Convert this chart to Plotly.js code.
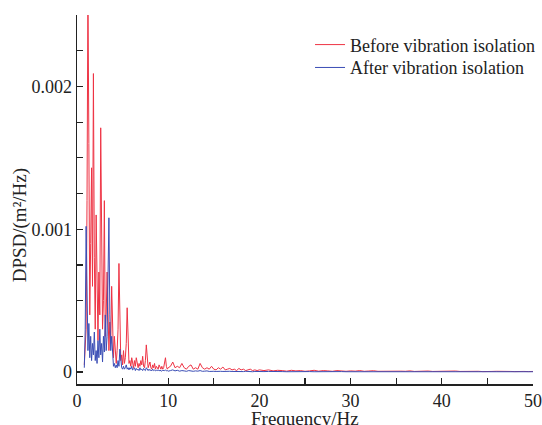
<!DOCTYPE html>
<html>
<head>
<meta charset="utf-8">
<script src="https://cdn.plot.ly/plotly-3.0.1.min.js"></script>
<style>html,body{margin:0;padding:0;background:#fff;}#chart{width:542px;height:425px;}</style>
</head>
<body>
<div id="chart"></div>
<script>
// Frequency (Hz)
var freqLow = [0.8,0.9,1.0,1.1,1.2,1.3,1.4,1.5,1.6,1.7,1.8,1.9,2.0,2.1,2.2,2.3,2.4,2.5,2.6,2.7,2.8,2.9,3.0,3.1,3.2,3.3,3.4,3.5,3.6,3.7,3.8,3.9,4.0,4.1,4.2,4.3,4.4,4.5,4.6,4.7,4.8,4.9,5.0,5.1,5.2,5.3,5.4,5.5,5.6,5.7,5.8,5.9,6.0,6.1,6.2,6.3,6.4,6.5,6.6,6.7,6.8,6.9,7.0,7.1,7.2,7.3,7.4,7.5,7.6,7.7,7.8,7.9,8.0,8.1,8.2,8.3,8.4,8.5,8.6,8.7,8.8,8.9,9.0,9.1,9.2,9.3,9.4,9.5,9.6,9.7,9.8,9.9,10.0];
var freqMid = [10.25,10.5,10.75,11,11.25,11.5,11.75,12,12.25,12.5,12.75,13,13.25,13.5,13.75,14,14.25,14.5,14.75,15,15.25,15.5,15.75,16,16.25,16.5,16.75,17,17.25,17.5,17.75,18,18.25,18.5,18.75,19,19.25,19.5,19.75,20];
var freqHigh = [20.5,21,21.5,22,22.5,23,23.5,24,24.5,25,25.5,26,26.5,27,27.5,28,28.5,29,29.5,30,30.5,31,31.5,32,32.5,33,33.5,34,34.5,35,35.5,36,36.5,37,37.5,38,38.5,39,39.5,40,40.5,41,41.5,42,42.5,43,43.5,44,44.5,45,45.5,46,46.5,47,47.5,48,48.5,49,49.5,50];

// DPSD values in units of 1e-4 m^2/Hz
var beforeLow = [0.5,1.5,3,12,27,16,4,9,14.3,6, 20.9,8,3,11,5,2.2,7,4,17.1,9, 3,5,12,2.5,4,7,3,1.5,3.5,2, 6,2,1,2.5,1,0.6,1.5,3,7.6,2, 0.8,1.2,0.5,1.5,0.6,1,2,4.5,1.5,0.6, 0.8,0.4,1,0.5,0.3,0.8,0.4,1,0.5,0.3, 0.6,0.4,0.8,0.5,1.1,0.4,0.3,0.8,1.9,0.6, 0.3,0.5,0.7,0.3,0.2,0.5,0.3,0.6,0.2,0.4, 0.3,0.2,0.5,0.3,0.2,0.4,0.2,0.3,0.6,1.0, 0.4,0.2,0.3];
var beforeMid = [0.4,0.7,0.3,0.4,0.3,0.6,0.3,0.2,0.4,0.5, 0.2,0.3,0.2,0.6,0.3,0.2,0.3,0.2,0.4,0.2, 0.15,0.3,0.2,0.35,0.15,0.2,0.25,0.15,0.2,0.1, 0.25,0.15,0.2,0.1,0.15,0.2,0.1,0.15,0.1,0.15];
var beforeHigh = [0.1,0.15,0.08,0.12,0.1,0.06,0.12,0.08,0.1,0.05, 0.08,0.12,0.06,0.1,0.08,0.05,0.1,0.07,0.05,0.08, 0.06,0.1,0.05,0.07,0.09,0.05,0.06,0.08,0.04,0.07, 0.06,0.05,0.08,0.04,0.06,0.05,0.07,0.04,0.05,0.06, 0.04,0.05,0.07,0.04,0.05,0.06,0.04,0.05,0.03,0.06, 0.04,0.05,0.03,0.05,0.04,0.03,0.05,0.04,0.03,0.04];

var afterLow = [0.3,3,10.2,5,1.5,3.4,1,2.5,0.8,2, 1.2,2.8,0.8,1.5,0.6,2.2,1,3,1.2,2, 0.7,2.5,1.4,4,1.5,2.5,7.6,10.8,4,1.5, 2.5,0.8,0.4,0.6,0.3,0.5,0.3,0.8,0.4,1.6, 0.5,0.3,0.2,0.4,0.2,0.3,0.5,0.2,0.3,0.15, 0.3,0.2,0.4,0.15,0.2,0.3,0.1,0.25,0.15,0.2, 0.1,0.3,0.15,0.2,0.1,0.25,0.15,0.1,0.3,0.15, 0.1,0.2,0.1,0.15,0.08,0.2,0.1,0.15,0.08,0.12, 0.1,0.15,0.08,0.12,0.1,0.06,0.12,0.08,0.1,0.15, 0.08,0.1,0.06];
var afterMid = [0.1,0.15,0.08,0.12,0.06,0.1,0.08,0.05,0.1,0.07, 0.05,0.08,0.06,0.1,0.05,0.06,0.08,0.04,0.06,0.05, 0.04,0.06,0.05,0.04,0.06,0.03,0.05,0.04,0.03,0.05, 0.03,0.04,0.03,0.05,0.03,0.04,0.02,0.04,0.03,0.03];
var afterHigh = [0.03,0.04,0.02,0.03,0.03,0.02,0.03,0.02,0.03,0.02, 0.03,0.02,0.03,0.02,0.02,0.03,0.02,0.03,0.02,0.02, 0.03,0.02,0.02,0.03,0.02,0.02,0.03,0.02,0.02,0.03, 0.02,0.02,0.03,0.02,0.02,0.02,0.03,0.02,0.02,0.02, 0.02,0.03,0.02,0.02,0.02,0.02,0.03,0.02,0.02,0.02, 0.02,0.02,0.02,0.03,0.02,0.02,0.02,0.02,0.02,0.02];

var seriesNames = ["Before vibration isolation", "After vibration isolation"];
var yTickVals = [0, 0.001, 0.002];
var yTickText = ["0", "0.001", "0.002"];
var xTickVals = [0, 10, 20, 30, 40, 50];
var xTitle = "Frequency/Hz";
var yTitle = "DPSD/(m²/Hz)";

var freq = freqLow.concat(freqMid, freqHigh);
function toSI(a){ return a.map(function(v){ return v * 1e-4; }); }
var before = toSI(beforeLow.concat(beforeMid, beforeHigh));
var after = toSI(afterLow.concat(afterMid, afterHigh));

var font = "Liberation Serif, Times New Roman, serif";
var traces = [
  {x: freq, y: before, type: "scatter", mode: "lines", name: seriesNames[0], legend: "legend",
   line: {color: "#ee3344", width: 1}},
  {x: freq, y: after, type: "scatter", mode: "lines", name: seriesNames[1], legend: "legend2",
   line: {color: "#3a4db5", width: 1}}
];

var legFont = {family: font, size: 18, color: "#222"};
var layout = {
  width: 542, height: 425,
  margin: {l: 77, r: 9, t: 15, b: 41, autoexpand: false},
  paper_bgcolor: "#fff", plot_bgcolor: "#fff",
  font: {family: font, size: 18, color: "#222"},
  showlegend: true,
  legend: {x: 0.511, y: 0.919, xanchor: "left", yanchor: "middle", bgcolor: "rgba(0,0,0,0)", font: legFont},
  legend2: {x: 0.511, y: 0.857, xanchor: "left", yanchor: "middle", bgcolor: "rgba(0,0,0,0)", font: legFont},
  xaxis: {range: [0, 50], tickvals: xTickVals, ticks: "inside", ticklen: 6, tickwidth: 1.2, automargin: false,
          tickcolor: "#222", showline: true, linecolor: "#222", linewidth: 1.5, showgrid: false,
          zeroline: false, minor: {dtick: 5, ticks: "inside", ticklen: 6, tickcolor: "#222", showgrid: false},
          tickfont: {family: font, size: 18, color: "#222"}},
  yaxis: {range: [-0.0000839, 0.0025], tickvals: yTickVals, ticktext: yTickText, ticks: "inside", ticklen: 6,
          tickwidth: 1.2, tickcolor: "#222", showline: true, linecolor: "#222", linewidth: 1.5, showgrid: false,
          zeroline: false, automargin: false,
          minor: {tick0: 0, dtick: 0.00025, ticks: "inside", ticklen: 6, tickcolor: "#222", showgrid: false},
          tickfont: {family: font, size: 18, color: "#222"}},
  annotations: [
    {text: xTitle, xref: "paper", yref: "paper", x: 0.5, y: -0.094, xanchor: "center", yanchor: "middle",
     showarrow: false, font: {family: font, size: 19, color: "#222"}},
    {text: yTitle, xref: "paper", yref: "paper", x: -0.125, y: 0.43, xanchor: "center", yanchor: "middle",
     textangle: -90, showarrow: false, font: {family: font, size: 19, color: "#222"}}
  ]
};

Plotly.newPlot("chart", traces, layout, {displayModeBar: false, staticPlot: true});
</script>
</body>
</html>
